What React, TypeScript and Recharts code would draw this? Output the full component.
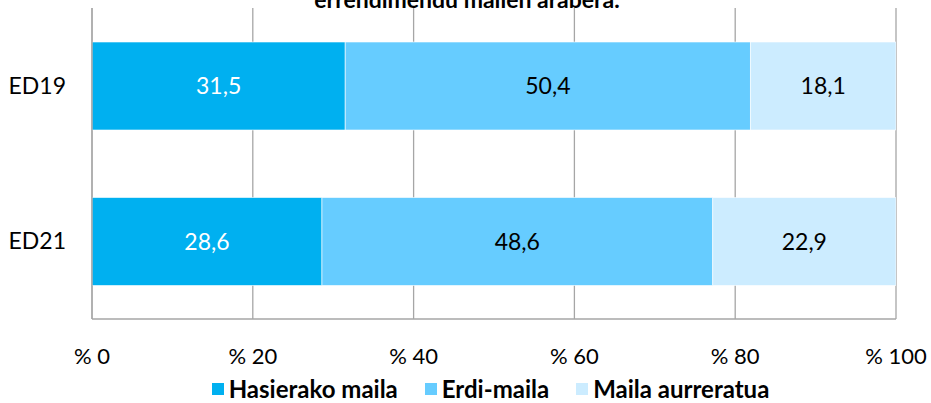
import React from "react";
import { BarChart, Bar, XAxis, YAxis, CartesianGrid, Legend, LabelList } from "recharts";

const categories = ["ED19", "ED21"];
const hasierakoMaila = [31.5, 28.6];
const erdiMaila = [50.4, 48.6];
const mailaAurreratua = [18.1, 22.9];
const xTicks = [0, 20, 40, 60, 80, 100];
const titleText = "errendimendu mailen arabera.";

const data = categories.map((c, i) => ({
  name: c,
  a: hasierakoMaila[i],
  b: erdiMaila[i],
  c: mailaAurreratua[i],
}));

const FONT = "Lato, 'Liberation Sans', sans-serif";
const fmt = (v: any) => Number(v).toFixed(1).replace(".", ",");

export default function App() {
  return (
    <div style={{ position: "absolute", left: 0, top: 0, width: 931, height: 403, background: "#fff", fontFamily: FONT }}>
      <BarChart
        width={931}
        height={403}
        data={data}
        layout="vertical"
        margin={{ top: 8, right: 35, bottom: 0, left: 0 }}
      >
        <CartesianGrid horizontal={false} vertical stroke="#A6A6A6" strokeWidth={1.3} />
        <XAxis
          type="number"
          domain={[0, 100]}
          ticks={xTicks}
          allowDataOverflow
          height={84}
          tickLine={false}
          tickMargin={23}
          axisLine={{ stroke: "#A6A6A6", strokeWidth: 1.3 }}
          tick={{ fill: "#000", fontSize: 22, fontFamily: FONT }}
          tickFormatter={(v) => `% ${v}`}
        />
        <YAxis
          type="category"
          dataKey="name"
          width={92}
          tickLine={false}
          tickMargin={20}
          axisLine={{ stroke: "#A6A6A6", strokeWidth: 1.3 }}
          tick={{ fill: "#000", fontSize: 23, fontFamily: FONT }}
        />
        <Legend
          layout="horizontal"
          verticalAlign="middle"
          align="center"
          iconType="square"
          iconSize={12}
          itemSorter="dataKey"
          wrapperStyle={{ top: 375, left: 102, width: 804, height: 24, fontFamily: FONT, lineHeight: "24px" }}
          formatter={(value: any) => (
            <span style={{ color: "#000", fontWeight: 700, fontSize: 24, lineHeight: "24px", display: "inline-block", marginLeft: 1, marginRight: 17, verticalAlign: "middle" }}>{value}</span>
          )}
        />
        <Bar dataKey="a" name="Hasierako maila" stackId="s" fill="#00B0F0" barSize={88} stroke="#ffffff" strokeWidth={0.6} isAnimationActive={false}>
          <LabelList dataKey="a" position="center" formatter={fmt} fill="#ffffff" style={{ fontSize: 23, fontFamily: FONT }} />
        </Bar>
        <Bar dataKey="b" name="Erdi-maila" stackId="s" fill="#66CCFF" barSize={88} stroke="#ffffff" strokeWidth={0.6} isAnimationActive={false}>
          <LabelList dataKey="b" position="center" formatter={fmt} fill="#000000" style={{ fontSize: 23, fontFamily: FONT }} />
        </Bar>
        <Bar dataKey="c" name="Maila aurreratua" stackId="s" fill="#CCECFF" barSize={88} stroke="#ffffff" strokeWidth={0.6} isAnimationActive={false}>
          <LabelList dataKey="c" position="center" formatter={fmt} fill="#000000" style={{ fontSize: 23, fontFamily: FONT }} />
        </Bar>
      </BarChart>
      <svg width={931} height={20} style={{ position: "absolute", left: 0, top: 0, pointerEvents: "none" }}>
        <text x={467} y={8} textAnchor="middle" fontFamily={FONT} fontWeight={700} fontSize={23} fill="#000">
          {titleText}
        </text>
      </svg>
    </div>
  );
}
